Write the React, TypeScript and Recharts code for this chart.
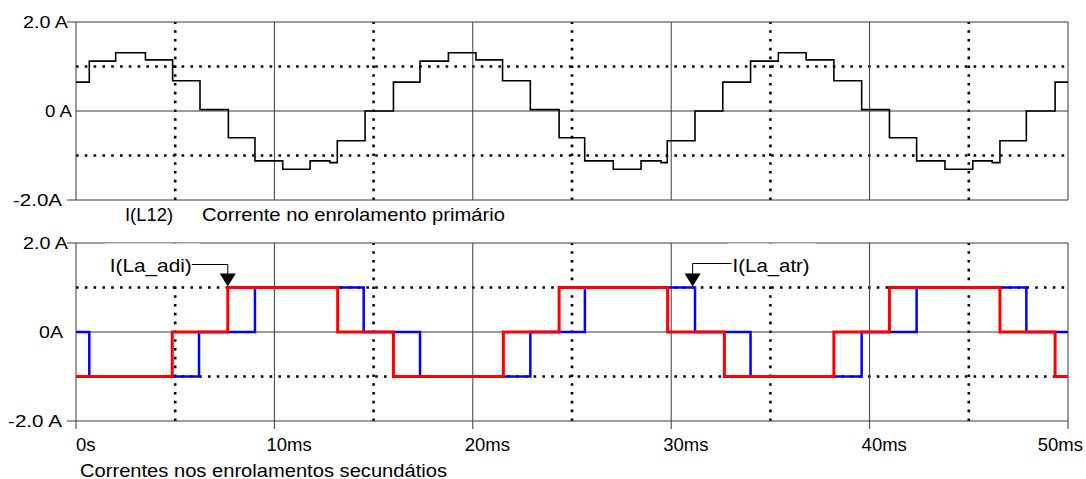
import React from 'react'
import { LineChart, Line, XAxis, YAxis, ReferenceLine, ReferenceDot } from 'recharts'

// I(L12): time of each step (ms) and the level held after it (A)
const primaryT = [0, 0.67, 2.0, 3.5, 4.87, 6.25, 7.68, 9.02, 10.42, 11.8, 12.8, 13.17, 14.57, 16.0, 17.34, 18.77, 20.16, 21.5, 22.9, 24.35, 25.64, 27.08, 28.48, 29.49, 29.8, 31.2, 32.6, 34.0, 35.4, 36.8, 38.2, 39.6, 41.0, 42.37, 43.8, 45.2, 46.18, 46.57, 47.9, 49.35, 50]
const primaryI = [0.65, 1.12, 1.31, 1.15, 0.68, 0.03, -0.6, -1.12, -1.31, -1.12, -1.16, -0.67, 0, 0.65, 1.12, 1.31, 1.15, 0.68, 0.03, -0.6, -1.12, -1.31, -1.12, -1.16, -0.67, 0, 0.65, 1.12, 1.31, 1.15, 0.68, 0.03, -0.6, -1.12, -1.31, -1.12, -1.16, -0.67, 0, 0.65, 0.65]

// I(La_atr) - blue
const atrT = [0, 0.67, 6.2, 9.02, 14.5, 17.34, 22.9, 25.65, 31.2, 34.0, 39.6, 42.37, 47.9, 50]
const atrI = [0, -1, 0, 1, 0, -1, 0, 1, 0, -1, 0, 1, 0, 0]

// I(La_adi) - red
const adiT = [0, 4.85, 7.65, 13.19, 16.0, 21.54, 24.35, 29.82, 32.68, 38.2, 41.0, 46.57, 49.35, 50]
const adiI = [-1, 0, 1, 0, -1, 0, 1, 0, -1, 0, 1, 0, -1, -1]

const timeTicks = [0, 10, 20, 30, 40, 50]
const timeLabels = ['0s', '10ms', '20ms', '30ms', '40ms', '50ms']
const currentTicks = [-2, 0, 2]
const primaryLabels = ['-2.0A', '0 A', '2.0 A']
const secondaryLabels = ['-2.0 A', '0A', '2.0 A']
const dottedTimes = [5, 15, 25, 35, 45]
const solidTimes = [10, 20, 30, 40]
const dottedLevels = [-1, 1]

// where the arrows of the two labels point
const adiArrow = { t: 7.65, i: 1 }
const atrArrow = { t: 31.08, i: 1 }

const toPoints = (t: number[], v: number[]) => t.map((x, k) => ({ t: x, i: v[k] }))
const primaryData = toPoints(primaryT, primaryI)
const atrData = toPoints(atrT, atrI)
const adiData = toPoints(adiT, adiI)

const FONT = '"Liberation Sans", Arial, sans-serif'
const GRID = '#3a3a3a'
const DOTS = { stroke: '#000', strokeWidth: 2.6, strokeDasharray: '2.6 6.2' }

const makeYTick = (labels: string[], ends: number[], widths: number[]) => (props: any) => {
  const { x, y, payload } = props
  const k = currentTicks.indexOf(payload.value)
  return (
    <g>
      {payload.value !== 0 && <line x1={x - 9} x2={x} y1={y} y2={y} stroke={GRID} />}
      <text
        x={x - ends[k]}
        y={y + 6}
        textAnchor="end"
        fontFamily={FONT}
        fontSize={16.5}
        fill="#000"
        textLength={widths[k]}
        lengthAdjust="spacingAndGlyphs"
      >
        {labels[k]}
      </text>
    </g>
  )
}

const primaryTick = makeYTick(primaryLabels, [14, 4, 8], [49, 27, 45])
const secondaryTick = makeYTick(secondaryLabels, [14, 13, 8], [54, 24, 45])

const TimeTick = (props: any) => {
  const { x, y, payload } = props
  const k = timeTicks.indexOf(payload.value)
  const first = k === 0
  const last = k === timeTicks.length - 1
  return (
    <g>
      <line x1={x} x2={x} y1={y} y2={y + 8} stroke={GRID} />
      <text
        x={first ? x : last ? x + 15 : x - 8}
        y={y + 29.5}
        textAnchor={last ? 'end' : 'start'}
        fontFamily={FONT}
        fontSize={18.5}
        fill="#000"
      >
        {timeLabels[k]}
      </text>
    </g>
  )
}

const Arrow = ({ cx, cy }: { cx: number; cy: number }) => (
  <polygon points={`${cx - 8},${cy - 14} ${cx + 8},${cy - 14} ${cx},${cy - 1}`} fill="#000" />
)

const AdiLabel = (props: any) => {
  const { cx, cy } = props
  return (
    <g>
      <rect x={cx - 123} y={cy - 44} width={95} height={41} fill="#fff" />
      <text x={cx - 118} y={cy - 16} fontFamily={FONT} fontSize={18.5} fill="#000" textLength={82} lengthAdjust="spacingAndGlyphs">
        I(La_adi)
      </text>
      <polyline points={`${cx - 36},${cy - 23} ${cx},${cy - 23} ${cx},${cy - 13}`} fill="none" stroke="#000" />
      <Arrow cx={cx} cy={cy} />
    </g>
  )
}

const AtrLabel = (props: any) => {
  const { cx, cy } = props
  return (
    <g>
      <rect x={cx + 35} y={cy - 44} width={88} height={41} fill="#fff" />
      <text x={cx + 40} y={cy - 16} fontFamily={FONT} fontSize={18.5} fill="#000" textLength={77} lengthAdjust="spacingAndGlyphs">
        I(La_atr)
      </text>
      <polyline points={`${cx + 39},${cy - 24} ${cx},${cy - 24} ${cx},${cy - 13}`} fill="none" stroke="#000" />
      <Arrow cx={cx} cy={cy} />
    </g>
  )
}

const gridLines = () => [
  ...dottedLevels.map((v) => <ReferenceLine key={`dl${v}`} y={v} {...DOTS} />),
  ...dottedTimes.map((v) => <ReferenceLine key={`dt${v}`} x={v} {...DOTS} />),
  <ReferenceLine key="zero" y={0} stroke={GRID} />,
  ...solidTimes.map((v) => <ReferenceLine key={`st${v}`} x={v} stroke={GRID} />),
  <ReferenceLine key="top" y={2} stroke={GRID} />,
  <ReferenceLine key="bottom" y={-2} stroke={GRID} />,
  <ReferenceLine key="left" x={0} stroke={GRID} />,
  <ReferenceLine key="right" x={50} stroke={GRID} />,
]

export default function App() {
  return (
    <div style={{ position: 'absolute', left: 0, top: 0, width: 1086, height: 479, background: '#fff' }}>
      <div style={{ position: 'absolute', left: 0, top: 0 }}>
        <LineChart width={1086} height={230} margin={{ top: 22, right: 18, bottom: 30, left: 0 }}>
          <XAxis dataKey="t" type="number" domain={[0, 50]} ticks={timeTicks} hide allowDataOverflow />
          <YAxis
            type="number"
            domain={[-2, 2]}
            ticks={currentTicks}
            width={76}
            axisLine={false}
            tickLine={false}
            tickSize={0}
            tickMargin={0}
            tick={primaryTick}
            interval={0}
          />
          {gridLines()}
          <Line data={primaryData} dataKey="i" type="stepAfter" stroke="#000" strokeWidth={1.6} dot={false} isAnimationActive={false} />
        </LineChart>
      </div>
      <div style={{ position: 'absolute', left: 0, top: 225 }}>
        <LineChart width={1086} height={254} margin={{ top: 18, right: 18, bottom: 28, left: 0 }}>
          <XAxis
            dataKey="t"
            type="number"
            domain={[0, 50]}
            ticks={timeTicks}
            height={30}
            axisLine={false}
            tickLine={false}
            tickSize={0}
            tickMargin={0}
            tick={TimeTick}
            interval={0}
            allowDataOverflow
          />
          <YAxis
            type="number"
            domain={[-2, 2]}
            ticks={currentTicks}
            width={76}
            axisLine={false}
            tickLine={false}
            tickSize={0}
            tickMargin={0}
            tick={secondaryTick}
            interval={0}
          />
          {gridLines()}
          <Line data={atrData} dataKey="i" type="stepAfter" stroke="#0000ff" strokeWidth={2.5} dot={false} isAnimationActive={false} />
          <Line data={adiData} dataKey="i" type="stepAfter" stroke="#ff0000" strokeWidth={3} dot={false} isAnimationActive={false} />
          <ReferenceDot x={adiArrow.t} y={adiArrow.i} r={0} shape={AdiLabel} />
          <ReferenceDot x={atrArrow.t} y={atrArrow.i} r={0} shape={AtrLabel} />
        </LineChart>
      </div>
      <svg width={1086} height={479} style={{ position: 'absolute', left: 0, top: 0, pointerEvents: 'none' }}>
        <text x={125} y={220.5} fontFamily={FONT} fontSize={18.5} fill="#000" textLength={48} lengthAdjust="spacingAndGlyphs">
          I(L12)
        </text>
        <text x={202} y={220.5} fontFamily={FONT} fontSize={18.5} fill="#000" textLength={303} lengthAdjust="spacingAndGlyphs">
          Corrente no enrolamento primário
        </text>
        <text x={80} y={476.5} fontFamily={FONT} fontSize={18.5} fill="#000" textLength={367} lengthAdjust="spacingAndGlyphs">
          Correntes nos enrolamentos secundátios
        </text>
      </svg>
    </div>
  )
}
